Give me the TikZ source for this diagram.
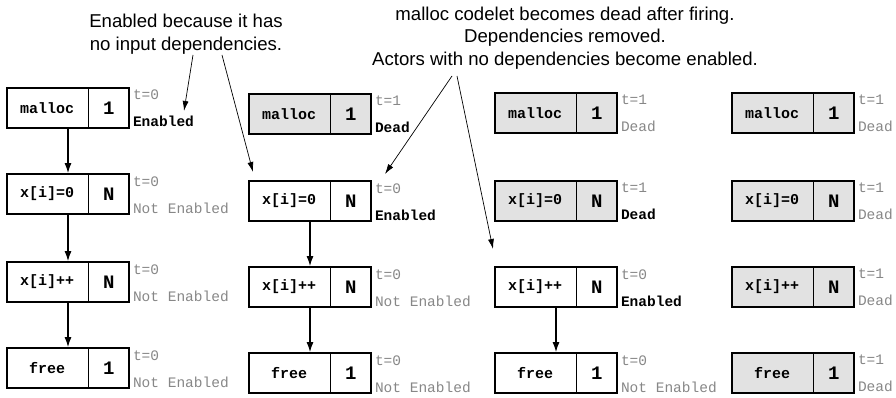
\documentclass[tikz,border=0pt]{standalone}
\usepackage{fontspec}
\setmainfont{Liberation Sans}
\setmonofont{Liberation Mono}
\usetikzlibrary{shapes.multipart,arrows.meta}
\definecolor{deadfill}{RGB}{226,226,226}
\definecolor{tagtext}{RGB}{135,135,135}

\begin{document}
\begin{tikzpicture}[x=1pt, y=-1pt,
    codelet/.style={rectangle split, rectangle split horizontal, rectangle split parts=2,
      rectangle split draw splits=false, draw, line width=1.8pt, inner sep=0pt,
      minimum height=40pt, fill=white, font=\fontsize{15}{18}\selectfont\ttfamily\bfseries},
    dead/.style={codelet, fill=deadfill},
    tag/.style={anchor=north west, align=left, inner sep=1pt, xshift=2pt, yshift=-2pt,
      text=tagtext, font=\fontsize{14.5}{27}\selectfont\ttfamily},
    flow/.style={-{Latex[length=10pt,width=7pt]}, line width=1.2pt},
    hint/.style={-{Latex[length=10pt,width=6pt]}, line width=0.7pt},
    note/.style={align=center, font=\fontsize{18.6}{22.5}\selectfont}]
  \useasboundingbox (0,0) rectangle (896,398);

  % t=0
  \node[codelet] (mallocA) at (68,108) {\makebox[80pt]{malloc}\nodepart{two}\makebox[40pt]{\fontsize{19}{19}\selectfont 1}};
  \node[codelet] (initA) at (68,194) {\makebox[80pt]{x[i]=0}\nodepart{two}\makebox[40pt]{\fontsize{19}{19}\selectfont N}};
  \node[codelet] (incA) at (68,282) {\makebox[80pt]{x[i]++}\nodepart{two}\makebox[40pt]{\fontsize{19}{19}\selectfont N}};
  \node[codelet] (freeA) at (68,368) {\makebox[80pt]{free}\nodepart{two}\makebox[40pt]{\fontsize{19}{19}\selectfont 1}};
  \node[tag] (mallocA-tag) at (mallocA.north east) {t=0\\\textcolor{black}{\bfseries Enabled}};
  \node[tag] (initA-tag) at (initA.north east) {t=0\\Not Enabled};
  \node[tag] (incA-tag) at (incA.north east) {t=0\\Not Enabled};
  \node[tag] (freeA-tag) at (freeA.north east) {t=0\\Not Enabled};
  \draw[flow] (mallocA) -- (initA);
  \draw[flow] (initA) -- (incA);
  \draw[flow] (incA) -- (freeA);

  % malloc fired
  \node[dead] (mallocB) at (310,114) {\makebox[80pt]{malloc}\nodepart{two}\makebox[40pt]{\fontsize{19}{19}\selectfont 1}};
  \node[codelet] (initB) at (310,201) {\makebox[80pt]{x[i]=0}\nodepart{two}\makebox[40pt]{\fontsize{19}{19}\selectfont N}};
  \node[codelet] (incB) at (310,287) {\makebox[80pt]{x[i]++}\nodepart{two}\makebox[40pt]{\fontsize{19}{19}\selectfont N}};
  \node[codelet] (freeB) at (310,373) {\makebox[80pt]{free}\nodepart{two}\makebox[40pt]{\fontsize{19}{19}\selectfont 1}};
  \node[tag] (mallocB-tag) at (mallocB.north east) {t=1\\\textcolor{black}{\bfseries Dead}};
  \node[tag] (initB-tag) at (initB.north east) {t=0\\\textcolor{black}{\bfseries Enabled}};
  \node[tag] (incB-tag) at (incB.north east) {t=0\\Not Enabled};
  \node[tag] (freeB-tag) at (freeB.north east) {t=0\\Not Enabled};
  \draw[flow] (initB) -- (incB);
  \draw[flow] (incB) -- (freeB);

  % x[i]=0 fired
  \node[dead] (mallocC) at (556,113) {\makebox[80pt]{malloc}\nodepart{two}\makebox[40pt]{\fontsize{19}{19}\selectfont 1}};
  \node[dead] (initC) at (556,201) {\makebox[80pt]{x[i]=0}\nodepart{two}\makebox[40pt]{\fontsize{19}{19}\selectfont N}};
  \node[codelet] (incC) at (556,287) {\makebox[80pt]{x[i]++}\nodepart{two}\makebox[40pt]{\fontsize{19}{19}\selectfont N}};
  \node[codelet] (freeC) at (556,373) {\makebox[80pt]{free}\nodepart{two}\makebox[40pt]{\fontsize{19}{19}\selectfont 1}};
  \node[tag] (mallocC-tag) at (mallocC.north east) {t=1\\Dead};
  \node[tag] (initC-tag) at (initC.north east) {t=1\\\textcolor{black}{\bfseries Dead}};
  \node[tag] (incC-tag) at (incC.north east) {t=0\\\textcolor{black}{\bfseries Enabled}};
  \node[tag] (freeC-tag) at (freeC.north east) {t=0\\Not Enabled};
  \draw[flow] (incC) -- (freeC);

  % all fired
  \node[dead] (mallocD) at (793,113) {\makebox[80pt]{malloc}\nodepart{two}\makebox[40pt]{\fontsize{19}{19}\selectfont 1}};
  \node[dead] (initD) at (793,201) {\makebox[80pt]{x[i]=0}\nodepart{two}\makebox[40pt]{\fontsize{19}{19}\selectfont N}};
  \node[dead] (incD) at (793,287) {\makebox[80pt]{x[i]++}\nodepart{two}\makebox[40pt]{\fontsize{19}{19}\selectfont N}};
  \node[dead] (freeD) at (793,373) {\makebox[80pt]{free}\nodepart{two}\makebox[40pt]{\fontsize{19}{19}\selectfont 1}};
  \node[tag] (mallocD-tag) at (mallocD.north east) {t=1\\Dead};
  \node[tag] (initD-tag) at (initD.north east) {t=1\\Dead};
  \node[tag] (incD-tag) at (incD.north east) {t=1\\Dead};
  \node[tag] (freeD-tag) at (freeD.north east) {t=1\\Dead};

  \foreach \c in {mallocA,initA,incA,freeA,mallocB,initB,incB,freeB,mallocC,initC,incC,freeC,mallocD,initD,incD,freeD}
    \draw[line width=0.9pt] (\c.one split north) -- (\c.one split south);

  % notes
  \node[note] (why) at (186,34) {Enabled because it has\\no input dependencies.};
  \node[note] (fired) at (565,38) {malloc codelet becomes dead after firing.\\Dependencies removed.\\Actors with no dependencies become enabled.};
  \coordinate (why-a) at (193,55);
  \coordinate (why-b) at (222,55);
  \coordinate (fired-a) at (452,76);
  \coordinate (fired-b) at (457,76);
  \coordinate (why-a-end) at (184,111);
  \coordinate (why-b-end) at (253,172);
  \coordinate (fired-a-end) at (385,174);
  \coordinate (fired-b-end) at (493,249);
  \draw[hint] (why-a) -- (why-a-end);
  \draw[hint] (why-b) -- (why-b-end);
  \draw[hint] (fired-a) -- (fired-a-end);
  \draw[hint] (fired-b) -- (fired-b-end);
\end{tikzpicture}
\end{document}
